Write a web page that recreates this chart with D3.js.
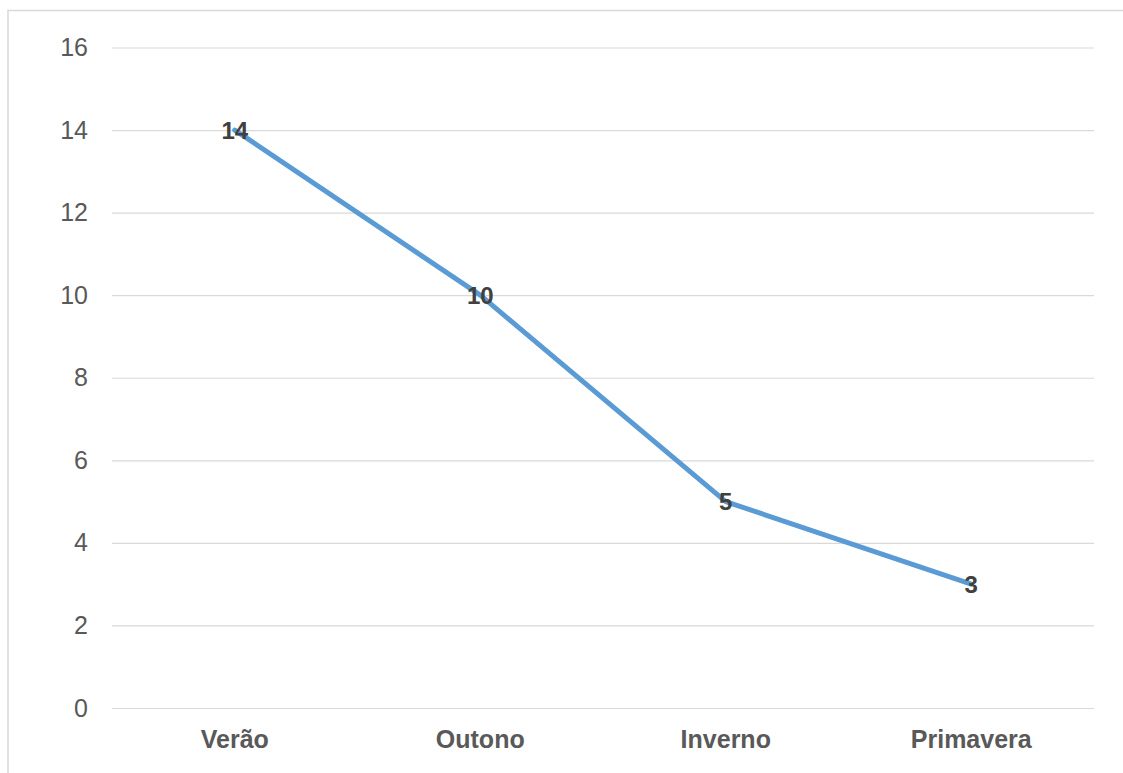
<!DOCTYPE html>
<html><head><meta charset="utf-8">
<script src="https://cdn.jsdelivr.net/npm/d3@7"></script>
<style>body{margin:0;background:#fff;overflow:hidden}svg{display:block}</style>
</head><body>
<script>
const categories = ["Verão","Outono","Inverno","Primavera"];
const values = [14,10,5,3];
const yTicks = [0,2,4,6,8,10,12,14,16];

(function(){
const W=1123,H=773;
const svg=d3.select("body").append("svg").attr("width",W).attr("height",H);
svg.append("rect").attr("x",8).attr("y",10.5).attr("width",1130).attr("height",800)
  .attr("fill","#fff").attr("stroke","#d9d9d9").attr("stroke-width",1.5);

const mLeft=112,mRight=1094,mTop=47.5,mBottom=708;
const x=d3.scaleBand().domain(categories).range([mLeft,mRight]);
const y=d3.scaleLinear().domain([0,16]).range([mBottom,mTop]);

const font="'Liberation Sans', Arial, sans-serif";
const ya=svg.append("g").attr("transform",`translate(${mLeft},0)`)
  .call(d3.axisLeft(y).tickValues(yTicks).tickSize(-(mRight-mLeft)).tickPadding(24));
ya.select(".domain").remove();
ya.selectAll(".tick line").attr("stroke","#d9d9d9").attr("stroke-width",1.2);
ya.selectAll(".tick text").attr("fill","#595959").style("font-family",font).style("font-size","25px");

const xa=svg.append("g").attr("transform",`translate(0,${mBottom})`)
  .call(d3.axisBottom(x).tickSize(0).tickPadding(22));
xa.select(".domain").remove();
xa.selectAll(".tick text").attr("fill","#595959").style("font-family",font)
  .style("font-size","25px").style("font-weight","bold");

const cx=d=>x(d)+x.bandwidth()/2;
const line=d3.line().x((d,i)=>cx(categories[i])).y(d=>y(d));
svg.append("path").datum(values).attr("d",line).attr("fill","none")
  .attr("stroke","#5B9BD5").attr("stroke-width",5).attr("stroke-linejoin","round").attr("stroke-linecap","round");

svg.selectAll(".lbl").data(values).enter().append("text")
  .attr("x",(d,i)=>cx(categories[i])).attr("y",d=>y(d)).attr("dy","0.36em")
  .attr("text-anchor","middle").attr("fill","#404040")
  .style("font-family",font).style("font-size","24px").style("font-weight","bold")
  .text(d=>d);
})();
</script>
</body></html>
